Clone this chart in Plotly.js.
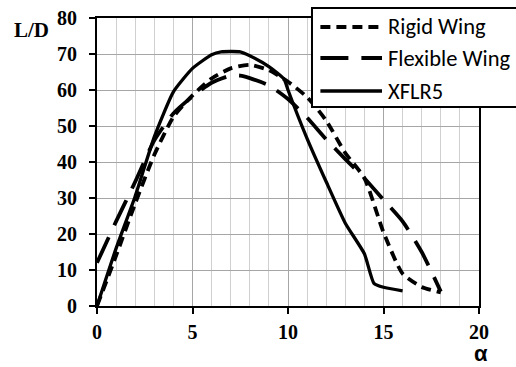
<!DOCTYPE html>
<html>
<head>
<meta charset="utf-8">
<script src="https://cdn.plot.ly/plotly-3.0.1.min.js"></script>
<style>html,body{margin:0;padding:0;background:#fff;}#chart{width:516px;height:367px;}</style>
</head>
<body>
<div id="chart"></div>
<script>
// Angle of attack (deg) and lift-to-drag ratio values
const alphaRigid = [0,1,2,3,4,5,6,7,8,9,10,11,12,13,14,15,16,17,18];
const ldRigid    = [0,14,28.5,42,52.5,58.5,63.2,66,67,65.5,62.3,58,51.5,42.5,35.5,20.5,9,5.3,3.8];

const alphaFlex = [0,1,2,3,4,5,6,7,7.5,8,9,10,11,12,13,14,15,16,17,18];
const ldFlex    = [12,23.5,34.5,46,53.5,58.2,62,64,64,63.3,61.3,57.5,52.3,46.3,40.8,35.5,29.5,23.5,15,4];

const alphaXFLR = [0,1,2,3,4,5,6,6.5,7.5,8,9,9.8,10,11,12,13,14,14.5,15,16];
const ldXFLR    = [0,16,30.5,47,59.5,66,69.8,70.6,70.6,69.5,66.5,63,60,46.5,34.5,23,14.5,6.3,5.2,4.2];

const seriesNames = ['Rigid Wing','Flexible Wing','XFLR5'];
const seriesDash  = ['10px,6px','28px,13px','solid'];
const xTicks = [0,5,10,15,20];
const yTicks = [0,10,20,30,40,50,60,70,80];

const traces = [
  {x: alphaRigid, y: ldRigid, name: seriesNames[0], mode: 'lines',
   line: {color: '#000', width: 3.8, dash: seriesDash[0], shape: 'spline', smoothing: 0.6}},
  {x: alphaFlex, y: ldFlex, name: seriesNames[1], mode: 'lines',
   line: {color: '#000', width: 3.8, dash: seriesDash[1], shape: 'spline', smoothing: 0.6}},
  {x: alphaXFLR, y: ldXFLR, name: seriesNames[2], mode: 'lines',
   line: {color: '#000', width: 3.3, dash: seriesDash[2], shape: 'spline', smoothing: 0.5}}
];

const tickFont = {family: '"Liberation Serif", "Times New Roman", serif', size: 20, color: '#000', weight: 'bold'};

// Legend box (drawn by hand so it can run past the right edge like the reference)
const legendRows = [0.9688, 0.8611, 0.7465];
const shapes = [
  {type: 'rect', xref: 'paper', yref: 'paper', x0: 0.5628, x1: 1.14, y0: 0.691, y1: 1.0347,
   line: {color: '#000', width: 2}, fillcolor: '#fff', layer: 'above'}
];
const annotations = [];
seriesNames.forEach((nm, i) => {
  shapes.push({type: 'line', xref: 'paper', yref: 'paper', x0: 0.5848, x1: 0.7461,
    y0: legendRows[i], y1: legendRows[i], layer: 'above',
    line: {color: '#000', width: i === 2 ? 3.3 : 3.8, dash: seriesDash[i]}});
  annotations.push({text: nm, xref: 'paper', yref: 'paper', x: 0.7565, y: legendRows[i],
    xanchor: 'left', yanchor: 'middle', showarrow: false,
    font: {family: 'Carlito, Calibri, "Open Sans", "Liberation Sans", sans-serif', size: 22.5, color: '#000'}});
});
annotations.push(
  {text: 'L/D', xref: 'paper', yref: 'paper', x: -0.222, y: 0.96, xanchor: 'left', yanchor: 'middle',
   showarrow: false, font: {family: '"Liberation Serif", "Times New Roman", serif', size: 21, color: '#000', weight: 'bold'}},
  {text: 'α', xref: 'paper', yref: 'paper', x: 1.005, y: -0.2083, xanchor: 'center', yanchor: 'bottom',
   height: 22, valign: 'middle',
   showarrow: false, font: {family: '"Liberation Sans", Arial, sans-serif', size: 22, color: '#000', weight: 'bold'}}
);

const layout = {
  width: 516, height: 367,
  margin: {l: 97, r: 37, t: 18, b: 61, pad: 0},
  paper_bgcolor: '#fff', plot_bgcolor: '#fff',
  showlegend: false,
  xaxis: {
    range: [0, 20], tickvals: xTicks, ticktext: xTicks.map(String),
    showline: true, linecolor: '#000', linewidth: 2, mirror: true,
    ticks: 'outside', ticklen: 6, tickwidth: 2, tickcolor: '#000',
    showgrid: true, gridcolor: '#a6a6a6', gridwidth: 1,
    minor: {dtick: 1, showgrid: true, gridcolor: '#d0d0d0', gridwidth: 1, ticks: ''},
    zeroline: false, tickfont: tickFont, ticklabelstandoff: 1, fixedrange: true
  },
  yaxis: {
    range: [0, 80], tickvals: yTicks, ticktext: yTicks.map(String),
    showline: true, linecolor: '#000', linewidth: 2, mirror: true,
    ticks: 'outside', ticklen: 6, tickwidth: 2, tickcolor: '#000',
    showgrid: true, gridcolor: '#a6a6a6', gridwidth: 1,
    zeroline: false, tickfont: tickFont, ticklabelstandoff: 8, fixedrange: true
  },
  shapes: shapes,
  annotations: annotations
};

Plotly.newPlot('chart', traces, layout, {staticPlot: true, displayModeBar: false});
</script>
</body>
</html>
